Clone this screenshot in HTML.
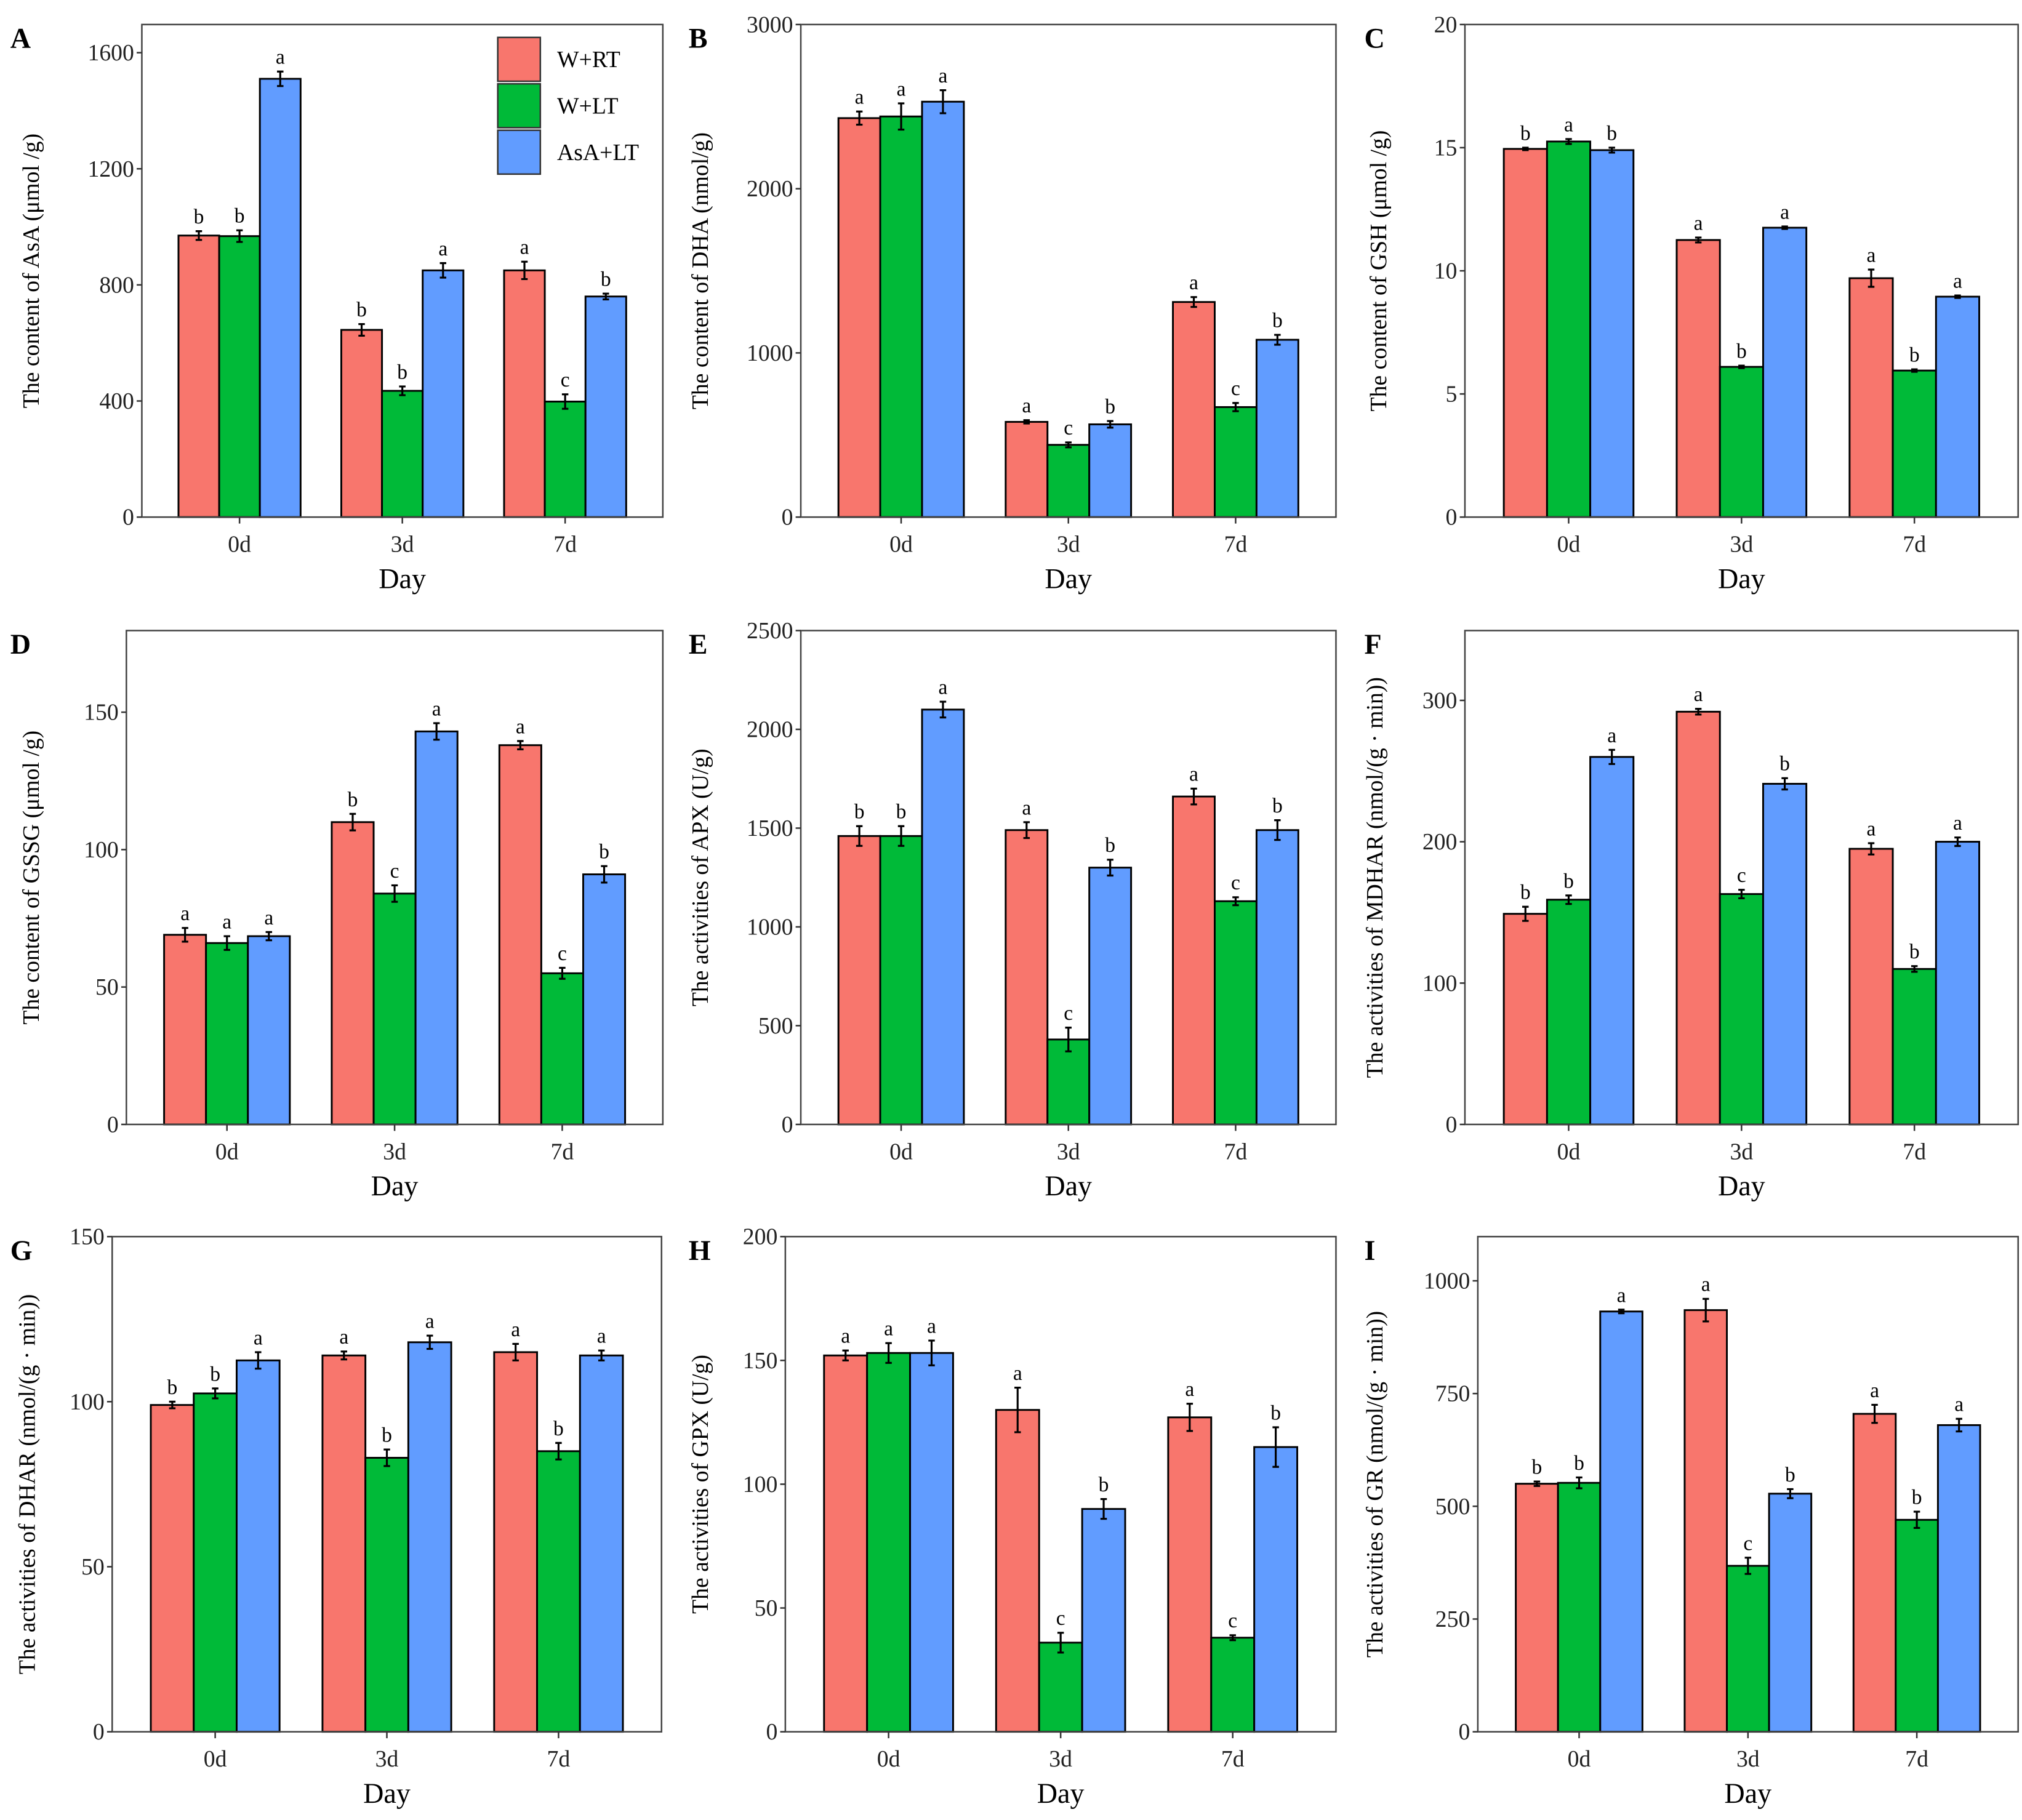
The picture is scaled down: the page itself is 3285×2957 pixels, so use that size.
<!DOCTYPE html>
<html><head><meta charset="utf-8"><style>
html,body{margin:0;padding:0;background:#fff;}
svg{display:block;font-family:"Liberation Serif","DejaVu Serif",serif;}
</style></head><body>
<svg id="fig" xmlns="http://www.w3.org/2000/svg" width="3285" height="2957" viewBox="0 0 1568 1411.4" font-family="Liberation Serif, serif"></svg>
<script>
const days = ['0d','3d','7d'];
const groups = ['W+RT','W+LT','AsA+LT'];
const colors = ['#F8766D','#00BA38','#619CFF'];

const A_RT=[970,645,850], A_LT=[968,435,398], A_AsA=[1510,850,760];
const A_eRT=[15,20,30], A_eLT=[20,15,25], A_eAsA=[25,25,10];
const A_letters=[['b','b','a'],['b','b','a'],['a','c','b']];
const A_ticks=[0,400,800,1200,1600];

const B_RT=[2430,580,1310], B_LT=[2440,440,670], B_AsA=[2530,565,1080];
const B_eRT=[40,10,30], B_eLT=[80,15,25], B_eAsA=[70,20,30];
const B_letters=[['a','a','a'],['a','c','b'],['a','c','b']];
const B_ticks=[0,1000,2000,3000];

const C_RT=[14.95,11.25,9.7], C_LT=[15.25,6.1,5.95], C_AsA=[14.9,11.75,8.95];
const C_eRT=[0.05,0.1,0.35], C_eLT=[0.1,0.05,0.05], C_eAsA=[0.1,0.05,0.05];
const C_letters=[['b','a','b'],['a','b','a'],['a','b','a']];
const C_ticks=[0,5,10,15,20];

const D_RT=[69,110,138], D_LT=[66,84,55], D_AsA=[68.5,143,91];
const D_eRT=[2.5,3,1.5], D_eLT=[2.5,3,2], D_eAsA=[1.5,3,3];
const D_letters=[['a','a','a'],['b','c','a'],['a','c','b']];
const D_ticks=[0,50,100,150];

const E_RT=[1460,1490,1660], E_LT=[1460,430,1130], E_AsA=[2100,1300,1490];
const E_eRT=[50,40,40], E_eLT=[50,60,20], E_eAsA=[40,40,50];
const E_letters=[['b','b','a'],['a','c','b'],['a','c','b']];
const E_ticks=[0,500,1000,1500,2000,2500];

const F_RT=[149,292,195], F_LT=[159,163,110], F_AsA=[260,241,200];
const F_eRT=[5,2,4], F_eLT=[3,3,2], F_eAsA=[5,4,3];
const F_letters=[['b','b','a'],['a','c','b'],['a','b','a']];
const F_ticks=[0,100,200,300];

const G_RT=[99,114,115], G_LT=[102.5,83,85], G_AsA=[112.5,118,114];
const G_eRT=[1,1.2,2.5], G_eLT=[1.5,2.5,2.5], G_eAsA=[2.5,2,1.5];
const G_letters=[['b','b','a'],['a','b','a'],['a','b','a']];
const G_ticks=[0,50,100,150];

const H_RT=[152,130,127], H_LT=[153,36,38], H_AsA=[153,90,115];
const H_eRT=[2,9,5.5], H_eLT=[4,4,1], H_eAsA=[5,4,8];
const H_letters=[['a','a','a'],['a','c','b'],['a','c','b']];
const H_ticks=[0,50,100,150,200];

const I_RT=[550,935,705], I_LT=[552,368,470], I_AsA=[932,528,680];
const I_eRT=[5,25,20], I_eLT=[12,18,18], I_eAsA=[4,10,14];
const I_letters=[['b','b','a'],['a','c','b'],['a','b','a']];
const I_ticks=[0,250,500,750,1000];

const NS='http://www.w3.org/2000/svg';
const svg=document.getElementById('fig');
function mk(tag,attrs,parent){const e=document.createElementNS(NS,tag);for(const k in attrs)e.setAttribute(k,attrs[k]);(parent||svg).appendChild(e);return e;}

const panels=[
 {id:'A',l:110,r:514,t:19,b:401,ymax:1697,vals:[A_RT,A_LT,A_AsA],errs:[A_eRT,A_eLT,A_eAsA],let:A_letters,ticks:A_ticks,title:'The content of AsA (μmol /g)',tx:30},
 {id:'B',l:621,r:1036,t:19,b:401,ymax:3000,vals:[B_RT,B_LT,B_AsA],errs:[B_eRT,B_eLT,B_eAsA],let:B_letters,ticks:B_ticks,title:'The content of DHA (nmol/g)',tx:549},
 {id:'C',l:1136,r:1565,t:19,b:401,ymax:20,vals:[C_RT,C_LT,C_AsA],errs:[C_eRT,C_eLT,C_eAsA],let:C_letters,ticks:C_ticks,title:'The content of GSH (μmol /g)',tx:1075},
 {id:'D',l:98,r:514,t:489,b:872,ymax:179.7,vals:[D_RT,D_LT,D_AsA],errs:[D_eRT,D_eLT,D_eAsA],let:D_letters,ticks:D_ticks,title:'The content of GSSG (μmol /g)',tx:30},
 {id:'E',l:621,r:1036,t:489,b:872,ymax:2500,vals:[E_RT,E_LT,E_AsA],errs:[E_eRT,E_eLT,E_eAsA],let:E_letters,ticks:E_ticks,title:'The activities of APX (U/g)',tx:549},
 {id:'F',l:1136,r:1565,t:489,b:872,ymax:349.4,vals:[F_RT,F_LT,F_AsA],errs:[F_eRT,F_eLT,F_eAsA],let:F_letters,ticks:F_ticks,title:'The activities of MDHAR (nmol/(g · min))',tx:1072},
 {id:'G',l:87,r:513,t:959,b:1343,ymax:150,vals:[G_RT,G_LT,G_AsA],errs:[G_eRT,G_eLT,G_eAsA],let:G_letters,ticks:G_ticks,title:'The activities of DHAR (nmol/(g · min))',tx:27},
 {id:'H',l:609,r:1036,t:959,b:1343,ymax:200,vals:[H_RT,H_LT,H_AsA],errs:[H_eRT,H_eLT,H_eAsA],let:H_letters,ticks:H_ticks,title:'The activities of GPX (U/g)',tx:549},
 {id:'I',l:1146,r:1565,t:959,b:1343,ymax:1098,vals:[I_RT,I_LT,I_AsA],errs:[I_eRT,I_eLT,I_eAsA],let:I_letters,ticks:I_ticks,title:'The activities of GR (nmol/(g · min))',tx:1072}
];

panels.forEach(p=>{
  const g=mk('g',{});
  
  
  const w=p.r-p.l, unit=w/3.2;
  const yS=v=>p.b-(v/p.ymax)*(p.b-p.t);
  const xC=i=>p.l+(i+0.6)*unit;
  const L=mk('text',{x:p.l<200?8:(p.l<700?534:1058),y:p.t+18,'font-size':22,'font-weight':'bold'},g);
  L.textContent=p.id;
  
  
  for(let s=0;s<3;s++){
    for(let i=0;i<3;i++){
      const v=p.vals[s][i], e=p.errs[s][i];
      const cx=xC(i)+(s-1)*0.25*unit, bw=0.25*unit;
      const r=mk('rect',{x:cx-bw/2,y:yS(v),width:bw,height:p.b-yS(v),fill:colors[s],stroke:'#000','stroke-width':1.4},g);
      
      
      const eb=mk('path',{d:`M${cx},${yS(v+e)}V${yS(v-e)}M${cx-2.5},${yS(v+e)}h5M${cx-2.5},${yS(v-e)}h5`,stroke:'#000','stroke-width':1.5,fill:'none'},g);
      
      
      const lt=mk('text',{x:cx,y:yS(v+e)-6,'font-size':16,'text-anchor':'middle'},g);
      lt.textContent=p.let[i][s];
      
      
    }
  }
  const fr=mk('rect',{x:p.l,y:p.t,width:w,height:p.b-p.t,fill:'none',stroke:'#444','stroke-width':1.2},g);
  
  
  p.ticks.forEach(t=>{
    const y=yS(t);
    mk('line',{x1:p.l-4,x2:p.l,y1:y,y2:y,stroke:'#333','stroke-width':1.2},g);
    const tt=mk('text',{x:p.l-6,y:y+6,'font-size':18,'text-anchor':'end',fill:'#222'},g);
    tt.textContent=t;
    
    
  });
  days.forEach((d,i)=>{
    const x=xC(i);
    mk('line',{x1:x,x2:x,y1:p.b,y2:p.b+5,stroke:'#333','stroke-width':1.2},g);
    const tt=mk('text',{x:x,y:p.b+27,'font-size':18,'text-anchor':'middle',fill:'#222'},g);
    tt.textContent=d;
    
    
  });
  const xt=mk('text',{x:xC(1),y:p.b+55,'font-size':22,'text-anchor':'middle'},g);
  xt.textContent='Day';
  
  
  const yc=(p.t+p.b)/2;
  const yt=mk('text',{x:p.tx,y:yc,'font-size':18,'text-anchor':'middle',transform:`rotate(-90 ${p.tx} ${yc})`},g);
  yt.textContent=p.title;
  
  
});

const lg=mk('g',{});


groups.forEach((gname,s)=>{
  const y=29+s*36;
  const k=mk('rect',{x:386,y:y,width:33,height:34,fill:colors[s],stroke:'#333','stroke-width':1.2},lg);
  
  
  const t=mk('text',{x:432,y:y+23,'font-size':18},lg);
  t.textContent=gname;
  
  
});
</script>
</body></html>
